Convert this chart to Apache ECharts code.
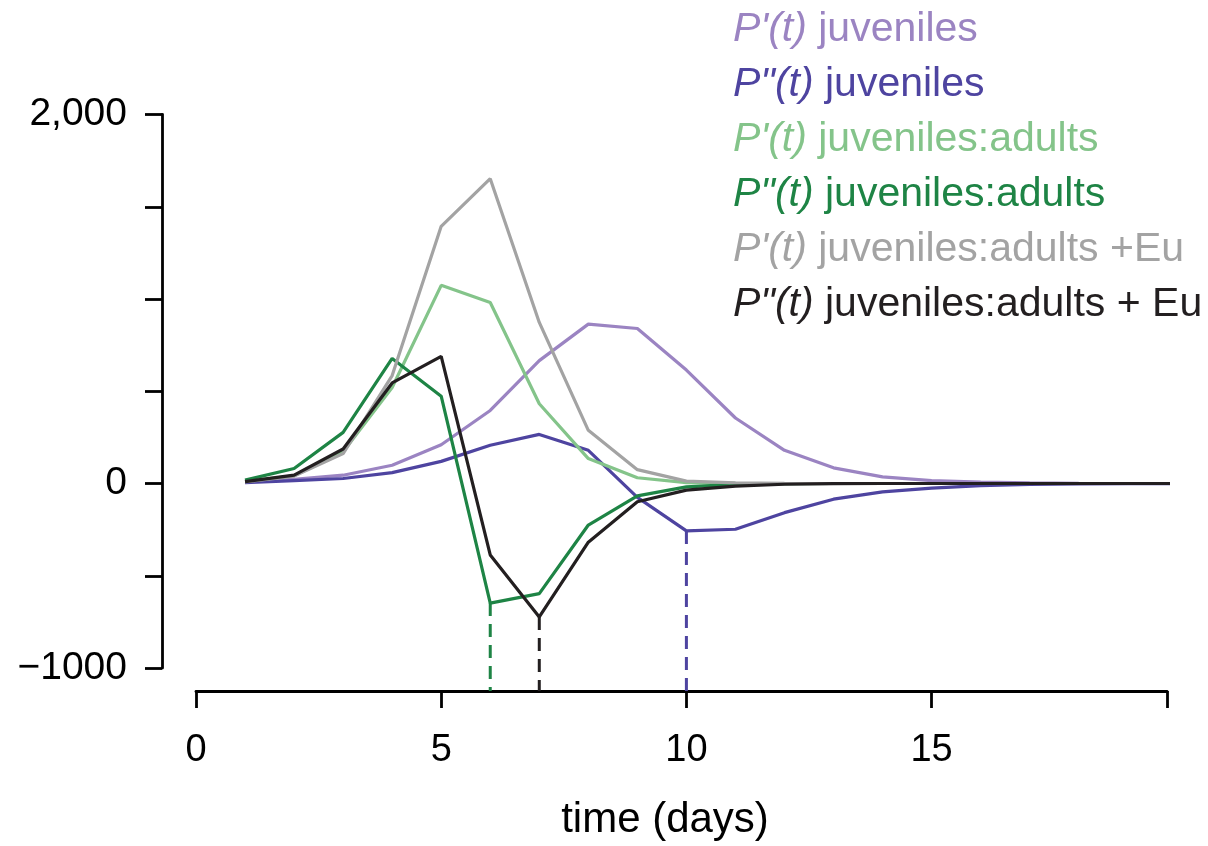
<!DOCTYPE html>
<html>
<head>
<meta charset="utf-8">
<script src="https://cdn.jsdelivr.net/npm/echarts@6/dist/echarts.min.js"></script>
<style>
  html, body { margin: 0; padding: 0; background: #fff; }
  #main { width: 1208px; height: 846px; }
</style>
</head>
<body>
<div id="main"></div>
<script>
// days 1..20
const days = [1, 2, 3, 4, 5, 6, 7, 8, 9, 10, 11, 12, 13, 14, 15, 16, 17, 18, 19, 20];

// series names (legend order)
const names = [
  "P'(t) juveniles",
  'P"(t) juveniles',
  "P'(t) juveniles:adults",
  'P"(t) juveniles:adults',
  "P'(t) juveniles:adults +Eu",
  'P"(t) juveniles:adults + Eu'
];
const colors = ['#9b84c2', '#4e44a0', '#84c48a', '#1e8445', '#a3a3a3', '#231f20'];

// values
const pJuv    = [9, 23, 45, 99, 210, 396, 666, 864, 840, 615, 355, 180, 85, 36, 16, 7, 3, 1, 0, 0];
const ppJuv   = [5, 16, 27, 59, 120, 207, 266, 180, -75, -257, -248, -158, -85, -45, -25, -12, -5, -2, -1, 0];
const pJA     = [12, 42, 172, 520, 1074, 981, 432, 135, 31, 5, 1, 0, 0, 0, 0, 0, 0, 0, 0, 0];
const ppJA    = [18, 81, 277, 678, 473, -648, -597, -225, -67, -18, -5, -1, 0, 0, 0, 0, 0, 0, 0, 0];
const pEu     = [8, 40, 162, 585, 1394, 1652, 873, 288, 75, 13, 3, 1, 0, 0, 0, 0, 0, 0, 0, 0];
const ppEu    = [10, 45, 187, 545, 689, -387, -723, -318, -99, -36, -14, -4, -1, 0, 0, 0, 0, 0, 0, 0];
const allSeries = [pJuv, ppJuv, pJA, ppJA, pEu, ppEu];

// dashed drop lines from the minima of the P" curves down to the x axis
const dropDays = [10, 6, 7];
const dropFrom = [-257, -648, -723];
const dropColors = ['#4e44a0', '#1e8445', '#231f20'];
const dropTo = -1124; // value at the offset x axis line

// axes
const xMax = 19.8;
const xTickLabels = [0, 5, 10, 15];
const yTickLabels = { '2000': '2,000', '0': '0', '-1000': '\u22121000' };

const chart = echarts.init(document.getElementById('main'));

const series = allSeries.map((vals, i) => ({
  name: names[i],
  type: 'line',
  data: days.map((d, k) => [d, vals[k]]),
  symbol: 'none',
  lineStyle: { color: colors[i], width: 3.2 },
  itemStyle: { color: colors[i] },
  z: 3 + i
}));

dropDays.forEach((d, i) => {
  series.push({
    name: 'drop' + i,
    type: 'line',
    data: [[d, dropFrom[i]], [d, dropTo]],
    symbol: 'none',
    clip: false,
    silent: true,
    lineStyle: { color: dropColors[i], width: 3, type: [13, 8] },
    z: 2
  });
});

const font = 'Liberation Sans, Arial, Helvetica, sans-serif';

const option = {
  animation: false,
  backgroundColor: '#fff',
  grid: { left: 196, right: 41, top: 114.5, bottom: 176, containLabel: false },
  legend: {
    orient: 'vertical',
    left: 727,
    top: 2,
    padding: 0,
    itemGap: 0,
    itemWidth: 0,
    itemHeight: 0,
    selectedMode: false,
    data: names.map((n, i) => ({ name: n, textStyle: { color: colors[i] } })),
    formatter: n => n.replace(/^(P\S+)/, '{i|$1}'),
    textStyle: {
      fontFamily: font,
      fontSize: 41,
      lineHeight: 55,
      rich: {
        i: { fontStyle: 'italic', fontFamily: font, fontSize: 41, lineHeight: 55 }
      }
    }
  },
  xAxis: {
    type: 'value',
    min: 0,
    max: xMax,
    interval: 5,
    offset: 23,
    splitLine: { show: false },
    axisLine: { show: true, onZero: false, lineStyle: { color: '#000', width: 2.8 } },
    axisTick: { show: true, length: 17, lineStyle: { color: '#000', width: 2.8 } },
    axisLabel: {
      margin: 41,
      color: '#000',
      fontFamily: font,
      fontSize: 38,
      formatter: v => (xTickLabels.indexOf(v) >= 0 ? String(v) : '')
    },
    name: 'time (days)',
    nameLocation: 'middle',
    nameGap: 108,
    nameTextStyle: { color: '#000', fontFamily: font, fontSize: 42, padding: [0, 33, 0, 0] }
  },
  yAxis: {
    type: 'value',
    min: -1000,
    max: 2000,
    interval: 500,
    offset: 34,
    splitLine: { show: false },
    axisLine: { show: true, onZero: false, lineStyle: { color: '#000', width: 2.8 } },
    axisTick: { show: true, length: 17, lineStyle: { color: '#000', width: 2.8 } },
    axisLabel: {
      margin: 35,
      color: '#000',
      fontFamily: font,
      fontSize: 39,
      formatter: v => yTickLabels[String(v)] || ''
    }
  },
  series: series
};

chart.setOption(option);
</script>
</body>
</html>
